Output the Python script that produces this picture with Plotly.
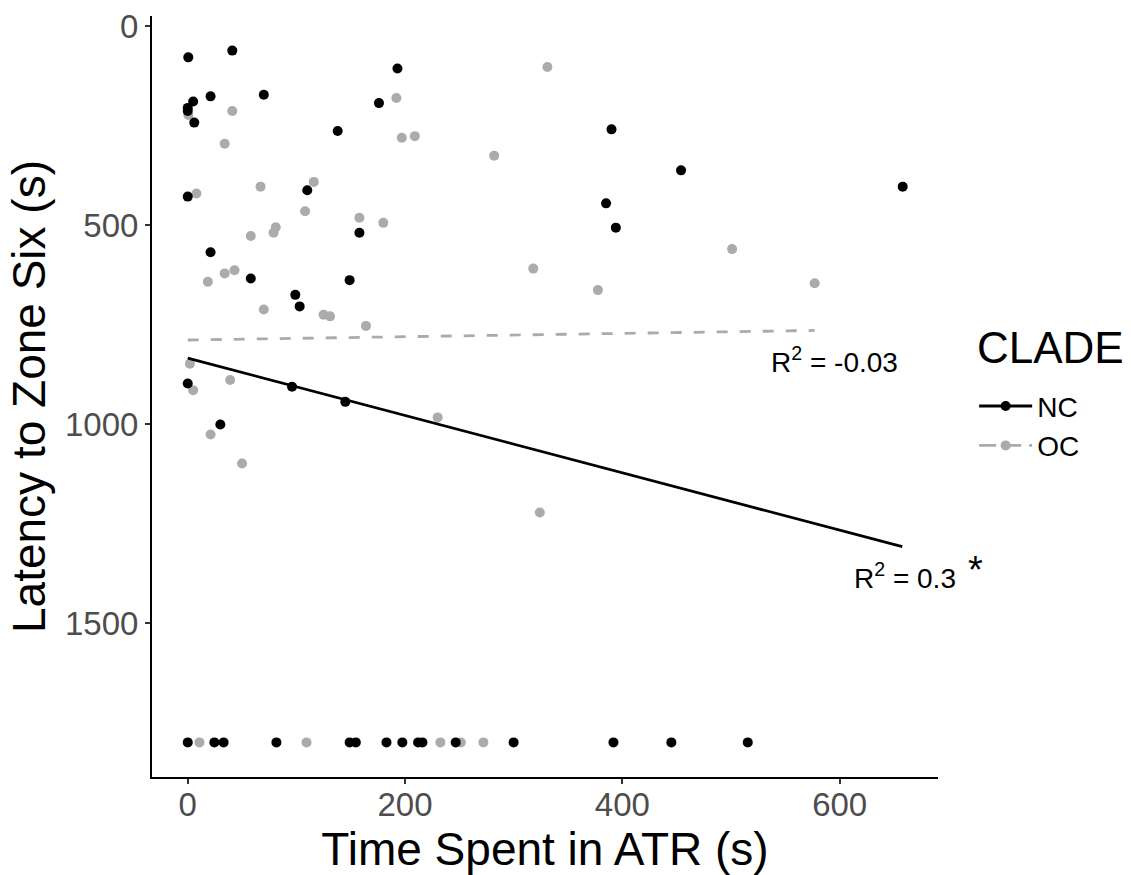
import plotly.graph_objects as go

# ---------------- data ----------------
nc_x = [0.5, 41, 193, 21, 70, 5, 0, 0, 6, 176, 138, 0, 110, 158, 21, 58, 149, 99, 103,
        390, 454, 658, 385, 394, 0, 96, 145, 30,
        0, 24.5, 33, 81.6, 149, 154.7, 182.9, 197.5, 212, 216, 246.6, 299.9, 391.8, 445.1, 515.4]
nc_y = [78, 61, 106, 176, 172, 189, 205, 213, 242, 193, 263, 428, 412, 519, 568, 634, 638, 675, 704,
        259, 362, 403, 445, 506, 898, 906, 944, 1001,
        1800, 1800, 1800, 1800, 1800, 1800, 1800, 1800, 1800, 1800, 1800, 1800, 1800, 1800, 1800]

oc_x = [331, 192, 41, 0.5, 197, 209, 34, 282, 8, 67, 116, 108, 158, 180, 81, 79, 58, 318, 43, 34,
        18.5, 377.5, 577, 501, 70, 125, 131, 164, 2, 5, 39, 230, 21, 50, 324,
        10.8, 109.3, 232.5, 251.3, 272.1]
oc_y = [102, 180, 213, 223, 280, 276, 295, 325, 420, 403, 391, 465, 481, 494, 505, 519, 527, 609, 613, 621,
        642, 663, 646, 560, 712, 725, 729, 753, 848, 915, 889, 983, 1026, 1099, 1222,
        1800, 1800, 1800, 1800, 1800]

# fitted regression lines (end points)
nc_fit_x = [0, 657.6]
nc_fit_y = [834, 1308]
oc_fit_x = [0, 577]
oc_fit_y = [788.5, 764.5]

clades = ["NC", "OC"]
legend_title = "CLADE"
x_ticks = [0, 200, 400, 600]
y_ticks = [0, 500, 1000, 1500]

r2_labels = ["R<sup>2</sup> = -0.03", "R<sup>2</sup> = 0.3"]
r2_x = [534.7, 611]
r2_y = [839, 1382]
signif_label = "*"
signif_y = 1366

# ---------------- styling ----------------
FONT = "Liberation Sans, Arial, sans-serif"
BLACK = "#000000"
GRAY = "#ABABAB"

fig = go.Figure()

fig.add_trace(go.Scatter(x=oc_x, y=oc_y, mode="markers",
                         marker=dict(color=GRAY, size=10), showlegend=False, hoverinfo="skip"))
fig.add_trace(go.Scatter(x=nc_x, y=nc_y, mode="markers",
                         marker=dict(color=BLACK, size=10), showlegend=False, hoverinfo="skip"))

fig.add_trace(go.Scatter(x=nc_fit_x, y=nc_fit_y, mode="lines",
                         line=dict(color=BLACK, width=2.8), showlegend=False))
fig.add_trace(go.Scatter(x=oc_fit_x, y=oc_fit_y, mode="lines",
                         line=dict(color=GRAY, width=2.8, dash="11px,12px"), showlegend=False))

# legend keys
fig.add_trace(go.Scatter(x=[None], y=[None], mode="lines+markers", name=clades[0],
                         line=dict(color=BLACK, width=2.8), marker=dict(color=BLACK, size=10)))
fig.add_trace(go.Scatter(x=[None], y=[None], mode="lines+markers", name=clades[1],
                         line=dict(color=GRAY, width=2.8, dash="17px,8px"), marker=dict(color=GRAY, size=10)))

for txt, ax_x, ax_y in zip(r2_labels, r2_x, r2_y):
    fig.add_annotation(x=ax_x, y=ax_y, xref="x", yref="y", text=txt, showarrow=False,
                       xanchor="left", yanchor="middle",
                       font=dict(family=FONT, size=28, color=BLACK))

# significance star next to the NC R^2 label
fig.add_annotation(x=1.0473, y=signif_y, xref="paper", yref="y", text=signif_label,
                   showarrow=False, xanchor="center", yanchor="middle",
                   font=dict(family=FONT, size=38, color=BLACK))

# legend title
fig.add_annotation(x=1.047, y=0.564, xref="paper", yref="paper", text=legend_title,
                   showarrow=False, xanchor="left", yanchor="middle",
                   font=dict(family=FONT, size=44, color=BLACK))

axis_common = dict(
    showline=True, linecolor=BLACK, linewidth=2,
    ticks="outside", ticklen=5, tickwidth=2, tickcolor="#333333",
    tickfont=dict(family=FONT, size=33, color="#4D4D4D"),
    showgrid=False, zeroline=False,
)

fig.update_layout(
    width=1131, height=875,
    margin=dict(l=152, r=193, t=8, b=98),
    plot_bgcolor="white", paper_bgcolor="white",
    font=dict(family=FONT, color=BLACK),
    xaxis=dict(range=[-32.9, 690.5], tickvals=x_ticks, ticklabelstandoff=-8,
               title=dict(text="Time Spent in ATR (s)", font=dict(family=FONT, size=46, color=BLACK), standoff=2),
               **axis_common),
    yaxis=dict(range=[1887, -26], tickvals=y_ticks,
               title=dict(text="Latency to Zone Six (s)", font=dict(family=FONT, size=46, color=BLACK), standoff=5),
               **axis_common),
    legend=dict(
        font=dict(family=FONT, size=28, color=BLACK),
        x=1.046, xanchor="left", y=0.520, yanchor="top",
        itemwidth=53,
        bgcolor="rgba(0,0,0,0)", borderwidth=0, tracegroupgap=0,
    ),
    showlegend=True,
)

fig.write_html("out.html")
